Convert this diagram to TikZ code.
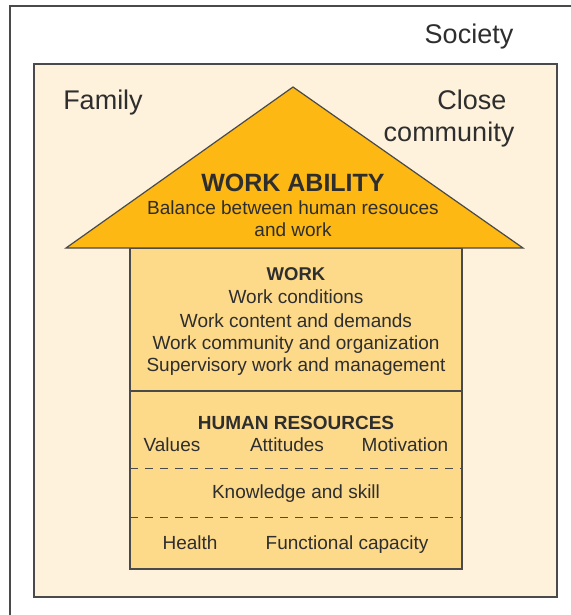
\documentclass[tikz,border=0pt]{standalone}
\usepackage{fontspec}
\setmainfont{Liberation Sans}
\definecolor{txt}{HTML}{2E2E2E}
\definecolor{edge}{HTML}{4A4A4A}
\definecolor{cream}{HTML}{FEF2DC}
\definecolor{roof}{HTML}{FDB813}
\definecolor{body}{HTML}{FDD98A}
\tikzset{
  lbl/.style={text=txt, inner sep=0pt, anchor=base},
  big/.style={lbl, font=\fontsize{27}{30}\selectfont},
  mid/.style={lbl, font=\fontsize{19}{22}\selectfont},
  frame/.style={draw=edge, line width=1.2pt},
}
\begin{document}
\begin{tikzpicture}[x=1pt,y=-1pt]
\useasboundingbox (0,0) rectangle (570,615);
\fill[white] (0,0) rectangle (570,615);
% society frame (extends beyond page)
\draw[draw=edge, line width=1.5pt] (10,640) -- (10,6) -- (600,6);
% inner box
\draw[frame, fill=cream] (34,64) rectangle (557,597);
% body
\draw[frame, fill=body] (130,248) rectangle (462,569);
\draw[frame] (130,391) -- (462,391);
\draw[draw=edge, line width=1pt, dash pattern=on 8pt off 7pt] (130,468) -- (462,468);
\draw[draw=edge, line width=1pt, dash pattern=on 8pt off 7pt] (130,517) -- (462,517);
% roof
\draw[frame, fill=roof, line join=miter] (66,248) -- (293,87) -- (523,248) -- cycle;
% texts
\node[big] (soc) at (469,44) {Society};
\node[big] (fam) at (103,110) {Family};
\node[big] (close) at (472,110) {Close};
\node[big] (comm) at (449,141) {community};
\node[lbl, font=\bfseries\fontsize{25}{28}\selectfont] (wa) at (293,191) {WORK ABILITY};
\node[mid] (bal1) at (293,214) {Balance between human resouces};
\node[mid] (bal2) at (293,236) {and work};
\node[lbl, font=\bfseries\fontsize{18.5}{22}\selectfont] (work) at (296,280) {WORK};
\node[mid] (w1) at (296,303) {Work conditions};
\node[mid] (w2) at (296,327) {Work content and demands};
\node[mid] (w3) at (296,349) {Work community and organization};
\node[mid] (w4) at (296,371) {Supervisory work and management};
\node[lbl, font=\bfseries\fontsize{19}{22}\selectfont] (hr) at (296,429) {HUMAN RESOURCES};
\node[mid] (val) at (172,451) {Values};
\node[mid] (att) at (287,451) {Attitudes};
\node[mid] (mot) at (405,451) {Motivation};
\node[mid] (ks) at (296,498) {Knowledge and skill};
\node[mid] (hea) at (190,549) {Health};
\node[mid] (fc) at (347,549) {Functional capacity};
\end{tikzpicture}
\end{document}
